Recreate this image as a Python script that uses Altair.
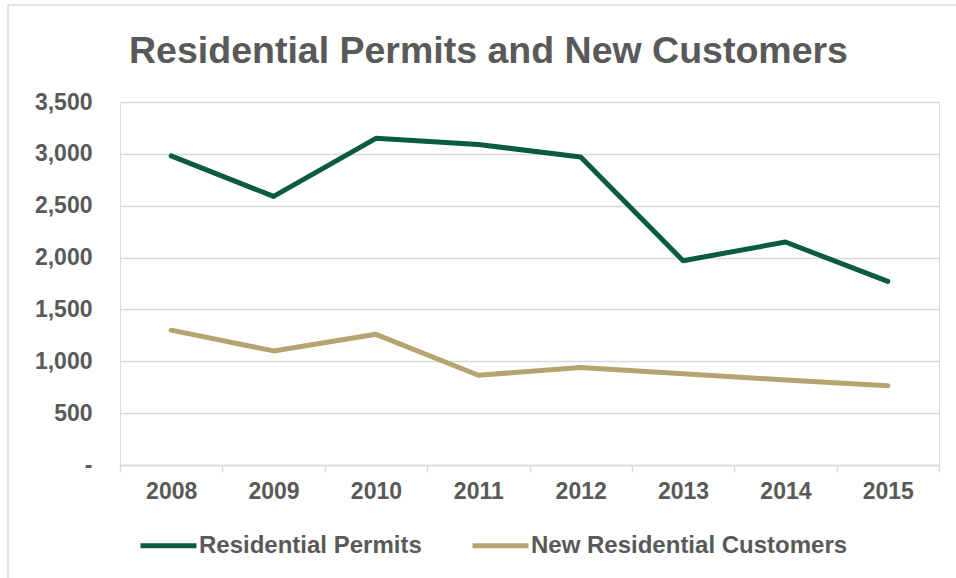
import altair as alt
import pandas as pd

years = ["2008", "2009", "2010", "2011", "2012", "2013", "2014", "2015"]
permits = [2980, 2590, 3150, 3090, 2970, 1970, 2150, 1770]
customers = [1300, 1100, 1260, 865, 940, 880, 820, 765]
series_names = ["Residential Permits", "New Residential Customers"]
series_colors = ["#0B5B41", "#B5A46F"]
y_ticks = [0, 500, 1000, 1500, 2000, 2500, 3000, 3500]

rows = []
for name, vals in zip(series_names, [permits, customers]):
    for yr, v in zip(years, vals):
        rows.append({"Year": yr, "Value": v, "Series": name})
df = pd.DataFrame(rows)

FONT = "Liberation Sans"
GRAY = "#595959"
LIGHT = "#d9d9d9"
W, H = 819, 363

border = alt.Chart(alt.Data(values=[{}])).mark_rect(
    fill=None, stroke=LIGHT, strokeWidth=1.5
).encode(
    x=alt.value(-112), x2=alt.value(W + 80),
    y=alt.value(-97), y2=alt.value(H + 200)
)

lines = alt.Chart(df).mark_line(strokeWidth=5, strokeCap="round", strokeJoin="round").encode(
    x=alt.X("Year:N", sort=years,
            scale=alt.Scale(paddingInner=0, paddingOuter=0),
            axis=alt.Axis(title=None, labelAngle=0, tickBand="extent",
                          ticks=True, tickSize=7, tickColor=LIGHT, tickWidth=1.5,
                          domainColor=LIGHT, domainWidth=1.5, grid=False,
                          labelFont=FONT, labelFontSize=23, labelFontWeight="bold",
                          labelColor=GRAY, labelPadding=8)),
    y=alt.Y("Value:Q",
            scale=alt.Scale(domain=[0, 3500], nice=False),
            axis=alt.Axis(title=None, values=y_ticks, ticks=False, domain=False,
                          grid=True, gridColor=LIGHT, gridWidth=1.5,
                          labelExpr="datum.value == 0 ? '-\u2007' : format(datum.value, ',')",
                          labelFont=FONT, labelFontSize=23, labelFontWeight="bold",
                          labelColor=GRAY, labelPadding=28)),
    color=alt.Color("Series:N",
                    scale=alt.Scale(domain=series_names, range=series_colors),
                    legend=alt.Legend(title=None, orient="none", direction="horizontal",
                                      legendX=18, legendY=413,
                                      symbolType="stroke", symbolSize=3136,
                                      symbolStrokeWidth=5, labelOffset=0,
                                      columnPadding=40, labelLimit=500,
                                      labelFont=FONT, labelFontSize=24,
                                      labelFontWeight="bold", labelColor=GRAY)),
    order=alt.Order("Year:N")
)

chart = alt.layer(border, lines).properties(
    width=W, height=H,
    title=alt.TitleParams("Residential Permits and New Customers",
                          font=FONT, fontSize=37.5, fontWeight="bold", color=GRAY,
                          anchor="middle", dx=-41, offset=-66),
    autosize=alt.AutoSizeParams(type="none"),
    padding={"left": 120, "top": 102, "right": 17, "bottom": 113},
).configure_view(stroke=None).configure(background="white")

chart.save("out.html", embed_options={"renderer": "svg", "actions": False})
